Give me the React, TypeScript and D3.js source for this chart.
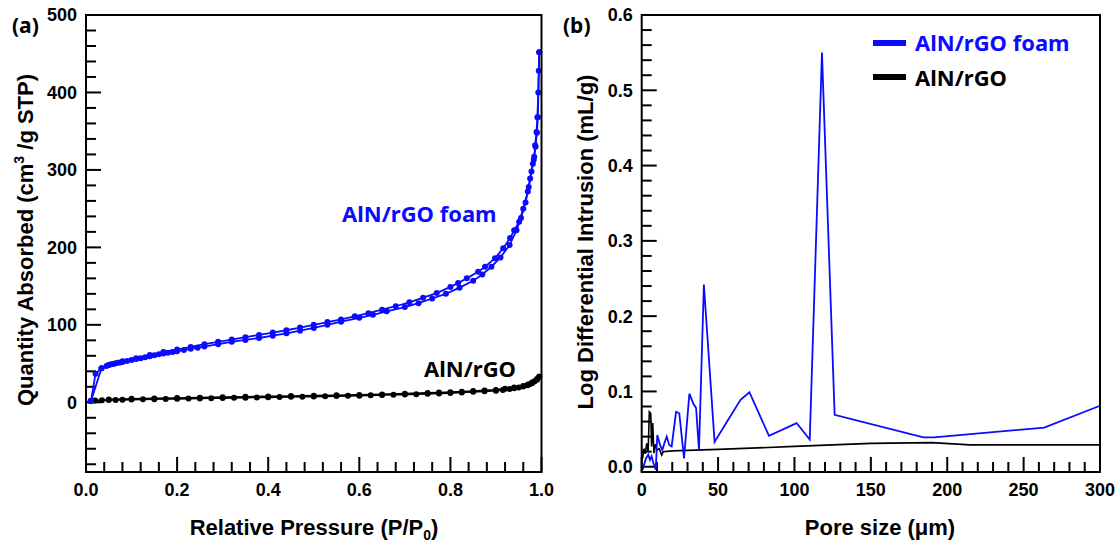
import React from 'react';
import * as d3 from 'd3';

// ---- panel (a): N2 isotherms, [P/P0, quantity] ----
const foamAds: [number, number][] = [
  [0.011, 1.7], [0.021, 37], [0.034, 44], [0.045, 47], [0.05, 48], [0.055, 49], [0.06, 49.5],
  [0.065, 50.3], [0.07, 51], [0.075, 51.5], [0.08, 52], [0.09, 53.3], [0.1, 54.5], [0.11, 55.8],
  [0.12, 57], [0.13, 58.3], [0.14, 59.5], [0.15, 60.8], [0.16, 62], [0.17, 63], [0.18, 64],
  [0.19, 65], [0.2, 66], [0.215, 67.5], [0.23, 69], [0.245, 70.5], [0.26, 72], [0.29, 75],
  [0.32, 78], [0.35, 80.5], [0.38, 83], [0.41, 86], [0.44, 89], [0.47, 92.5], [0.5, 96], [0.53, 100],
  [0.56, 104], [0.6, 109], [0.63, 113], [0.66, 117.5], [0.7, 123], [0.73, 128], [0.76, 134],
  [0.79, 140], [0.82, 148], [0.85, 157], [0.87, 165], [0.89, 175], [0.91, 187], [0.93, 203],
  [0.945, 222], [0.955, 238], [0.965, 258], [0.972, 278], [0.978, 298], [0.983, 313], [0.987, 330],
  [0.99, 348], [0.992, 368], [0.995, 452],
];
const foamDes: [number, number][] = [
  [0.995, 452], [0.994, 428], [0.993, 400], [0.991, 368], [0.989, 349], [0.986, 332], [0.984, 317],
  [0.981, 308], [0.975, 289], [0.97, 272], [0.96, 250], [0.951, 233], [0.94, 222], [0.931, 212],
  [0.916, 199], [0.898, 186], [0.876, 175], [0.861, 168.6], [0.836, 160], [0.817, 154], [0.8, 149],
  [0.77, 141], [0.74, 135], [0.71, 129], [0.68, 124], [0.65, 119.5], [0.62, 115], [0.59, 111],
  [0.56, 107], [0.53, 103.5], [0.5, 100], [0.47, 96.5], [0.44, 93], [0.41, 90], [0.38, 87],
  [0.35, 84], [0.32, 81], [0.29, 78], [0.26, 75], [0.23, 71.5], [0.2, 68], [0.17, 65], [0.14, 61],
  [0.11, 57], [0.08, 53], [0.05, 48], [0.034, 44], [0.011, 1.7],
];
const plainAds: [number, number][] = [
  [0.01, 1.7], [0.02, 2.2], [0.035, 2.6], [0.05, 2.9], [0.065, 3.1], [0.08, 3.3], [0.1, 3.5],
  [0.125, 3.8], [0.15, 4], [0.175, 4.3], [0.2, 4.5], [0.225, 4.8], [0.25, 5], [0.275, 5.3],
  [0.3, 5.5], [0.325, 5.8], [0.35, 6], [0.375, 6.3], [0.4, 6.5], [0.425, 6.8], [0.45, 7],
  [0.475, 7.3], [0.5, 7.5], [0.525, 7.8], [0.55, 8], [0.575, 8.3], [0.6, 8.5], [0.625, 9],
  [0.65, 9.5], [0.675, 9.8], [0.7, 10], [0.725, 10.5], [0.75, 11], [0.775, 11.5], [0.8, 12],
  [0.825, 12.7], [0.85, 13.5], [0.875, 14.2], [0.9, 15], [0.915, 16], [0.93, 17], [0.94, 18],
  [0.95, 19], [0.96, 20.5], [0.97, 22], [0.975, 23.5], [0.98, 25], [0.985, 27], [0.99, 29],
  [0.995, 33],
];
const plainDes: [number, number][] = [
  [0.995, 33], [0.99, 30], [0.98, 26], [0.97, 23], [0.96, 21], [0.94, 19], [0.92, 17.5], [0.9, 16],
  [0.875, 15.2], [0.85, 14.5], [0.825, 13.7], [0.8, 13], [0.775, 12.5], [0.75, 12], [0.7, 11],
  [0.65, 10.2], [0.6, 9.5], [0.55, 9], [0.5, 8.5], [0.45, 8], [0.4, 7.5], [0.35, 7], [0.3, 6.5],
  [0.25, 6], [0.2, 5.5], [0.15, 5], [0.1, 4.5], [0.05, 3.5],
];

// ---- panel (b): pore size distribution, [um, mL/g] ----
const foamPore: [number, number][] = [
  [0.6, -0.004], [2.8, 0.011], [4.3, 0.016], [5.4, 0.009], [6.5, 0.014], [7.5, 0.006], [9.2, -0.004],
  [10.2, 0.042], [12, 0.029], [13.5, 0.022], [14.8, 0.031], [16.4, 0.04], [18, 0.029], [19.6, 0.027],
  [22.5, 0.073], [24.6, 0.071], [27.7, 0.011], [31.2, 0.097], [33.8, 0.084], [35.6, 0.078],
  [37.5, 0.022], [40.7, 0.242], [47.7, 0.033], [55.3, 0.058], [64.7, 0.089], [70.5, 0.099],
  [83.3, 0.041], [101.4, 0.058], [110, 0.036], [118, 0.55], [126.3, 0.069], [184.4, 0.039],
  [191.4, 0.039], [263.5, 0.052], [300, 0.081],
];
const plainPore: [number, number][] = [
  [0.6, 0.011], [1.5, 0.024], [2.3, 0.017], [3.3, 0.031], [4.2, 0.02], [5, 0.073], [5.9, 0.071],
  [6.5, 0.027], [7.2, 0.058], [8, 0.018], [9, 0.03], [10, 0.022], [11.5, 0.024], [13.1, 0.0156],
  [14.2, 0.02], [20, 0.021], [50, 0.023], [100, 0.027], [150, 0.031], [190, 0.032], [215, 0.029],
  [300, 0.029],
];

const aYLabels = [0, 100, 200, 300, 400, 500];
const aXLabels = [0, 0.2, 0.4, 0.6, 0.8, 1.0];
const bYLabels = [0, 0.1, 0.2, 0.3, 0.4, 0.5, 0.6];
const bXLabels = [0, 50, 100, 150, 200, 250, 300];

const BLUE = '#0b0bff';
const TICK_FONT = '"Liberation Sans", Arial, sans-serif';
const LABEL_FONT = '"Noto Sans", "Open Sans", sans-serif';

const near = (a: number, b: number) => Math.abs(a - b) < 1e-6;

function Frame({ x, y }: { x: d3.ScaleLinear<number, number>; y: d3.ScaleLinear<number, number> }) {
  const [x0, x1] = x.range();
  const [y0, y1] = y.range();
  return (
    <rect x={x0} y={y1} width={x1 - x0} height={y0 - y1} fill="none" stroke="#000" strokeWidth={2} />
  );
}

export default function App() {
  const xA = d3.scaleLinear().domain([0, 1]).range([86, 541.5]);
  const yA = d3.scaleLinear().domain([-90, 500]).range([472, 15]);
  const xB = d3.scaleLinear().domain([0, 300]).range([641.7, 1100]);
  const yB = d3.scaleLinear().domain([-0.007, 0.6]).range([472, 15]);

  const lineA = d3.line<[number, number]>().x(d => xA(d[0])).y(d => yA(d[1]));
  const lineB = d3.line<[number, number]>().x(d => xB(d[0])).y(d => yB(d[1]));

  const aYTicks = d3.range(-80, 501, 20);
  const aXTicks = d3.range(0, 25).map(i => i * 0.04).concat([1]);
  const bYTicks = d3.range(0, 31).map(i => i * 0.02);
  const bXTicks = d3.range(0, 301, 10);

  const tickText = { fontFamily: TICK_FONT, fontWeight: 700, fontSize: 18, fill: '#000' } as const;
  const titleText = { fontFamily: TICK_FONT, fontWeight: 700, fontSize: 22, fill: '#000' } as const;

  return (
    <svg width={1115} height={542} style={{ position: 'absolute', left: 0, top: 0, background: '#fff' }}>
      {/* ---------- panel (a) ---------- */}
      <g>
        {aYTicks.map(v => {
          const major = v % 100 === 0;
          return <line key={'ay' + v} x1={xA(0)} x2={xA(0) + (major ? 15 : 10)} y1={yA(v)} y2={yA(v)} stroke="#000" strokeWidth={2} />;
        })}
        {aXTicks.map((v, i) => {
          const major = near(v * 5, Math.round(v * 5));
          return <line key={'ax' + i} x1={xA(v)} x2={xA(v)} y1={yA(-90)} y2={yA(-90) - (major ? 15 : 10)} stroke="#000" strokeWidth={2} />;
        })}
        {aYLabels.map(v => (
          <text key={'ayl' + v} x={xA(0) - 9} y={yA(v)} dy="0.36em" textAnchor="end" style={tickText}>{v}</text>
        ))}
        {aXLabels.map(v => (
          <text key={'axl' + v} x={xA(v)} y={496} textAnchor="middle" style={tickText}>{v.toFixed(1)}</text>
        ))}

        <path d={lineA(plainAds) ?? ''} fill="none" stroke="#000" strokeWidth={1.8} />
        <path d={lineA(plainDes) ?? ''} fill="none" stroke="#000" strokeWidth={1.8} />
        {plainAds.concat(plainDes).map((d, i) => (
          <circle key={'pc' + i} cx={xA(d[0])} cy={yA(d[1])} r={3} fill="#000" />
        ))}
        <path d={lineA(foamAds) ?? ''} fill="none" stroke={BLUE} strokeWidth={1.8} />
        <path d={lineA(foamDes) ?? ''} fill="none" stroke={BLUE} strokeWidth={1.8} />
        {foamAds.concat(foamDes).map((d, i) => (
          <circle key={'fc' + i} cx={xA(d[0])} cy={yA(d[1])} r={3} fill={BLUE} />
        ))}

        <Frame x={xA} y={yA} />

        <text x={342} y={222} style={{ fontFamily: LABEL_FONT, fontWeight: 700, fontSize: 22, fill: BLUE }}>AlN/rGO foam</text>
        <text x={424} y={377} style={{ fontFamily: LABEL_FONT, fontWeight: 700, fontSize: 22, fill: '#000' }}>AlN/rGO</text>

        <text x={314} y={535} textAnchor="middle" style={titleText}>
          Relative Pressure (P/P<tspan dy={5} fontSize={14}>0</tspan><tspan dy={-5}>)</tspan>
        </text>
        <text transform="translate(33,240) rotate(-90)" textAnchor="middle" style={titleText}>
          Quantity Absorbed (cm<tspan dy={-9} fontSize={14}>3</tspan><tspan dy={9}> /g STP)</tspan>
        </text>
        <text x={12} y={33} style={{ fontFamily: LABEL_FONT, fontWeight: 700, fontSize: 21, fill: '#000' }}>(a)</text>
      </g>

      {/* ---------- panel (b) ---------- */}
      <g>
        {bYTicks.map((v, i) => {
          const major = near(v * 10, Math.round(v * 10));
          return <line key={'by' + i} x1={xB(0)} x2={xB(0) + (major ? 15 : 10)} y1={yB(v)} y2={yB(v)} stroke="#000" strokeWidth={2} />;
        })}
        {bXTicks.map(v => {
          const major = v % 50 === 0;
          return <line key={'bx' + v} x1={xB(v)} x2={xB(v)} y1={yB(-0.007)} y2={yB(-0.007) - (major ? 15 : 10)} stroke="#000" strokeWidth={2} />;
        })}
        {bYLabels.map(v => (
          <text key={'byl' + v} x={xB(0) - 9} y={yB(v)} dy="0.36em" textAnchor="end" style={tickText}>{v.toFixed(1)}</text>
        ))}
        {bXLabels.map(v => (
          <text key={'bxl' + v} x={xB(v)} y={496} textAnchor="middle" style={tickText}>{v}</text>
        ))}

        <path d={lineB(plainPore) ?? ''} fill="none" stroke="#000" strokeWidth={1.6} />
        <path d={lineB(foamPore) ?? ''} fill="none" stroke={BLUE} strokeWidth={1.8} />

        <Frame x={xB} y={yB} />

        <line x1={873} x2={906} y1={43} y2={43} stroke={BLUE} strokeWidth={6} />
        <text x={915} y={51} style={{ fontFamily: LABEL_FONT, fontWeight: 700, fontSize: 22, fill: BLUE }}>AlN/rGO foam</text>
        <line x1={873} x2={906} y1={77} y2={77} stroke="#000" strokeWidth={6} />
        <text x={915} y={86} style={{ fontFamily: LABEL_FONT, fontWeight: 700, fontSize: 22, fill: '#000' }}>AlN/rGO</text>

        <text x={880} y={535} textAnchor="middle" style={titleText}>Pore size (μm)</text>
        <text transform="translate(593,242) rotate(-90)" textAnchor="middle" style={titleText}>
          Log Differential Intrusion (mL/g)
        </text>
        <text x={563} y={33} style={{ fontFamily: LABEL_FONT, fontWeight: 700, fontSize: 21, fill: '#000' }}>(b)</text>
      </g>
    </svg>
  );
}
